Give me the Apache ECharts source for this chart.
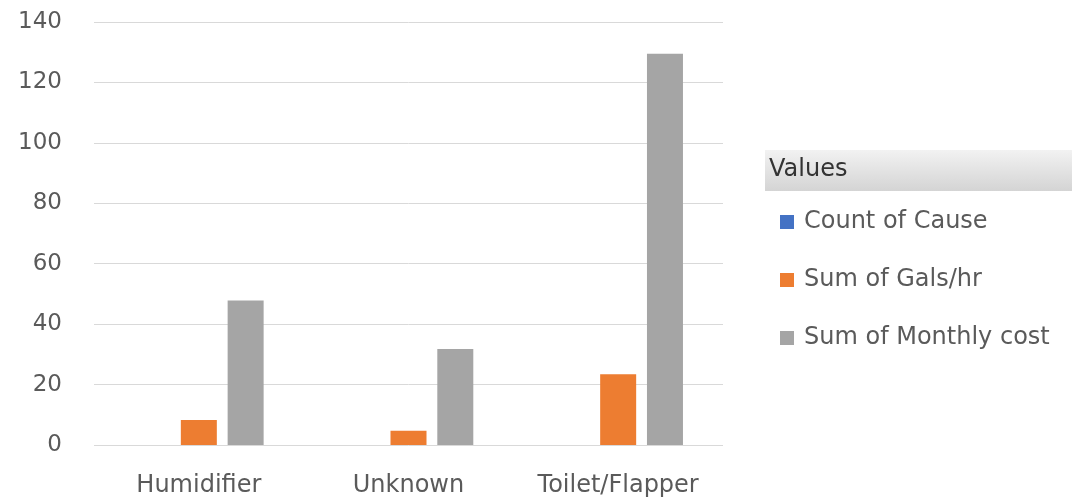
<!DOCTYPE html>
<html>
<head>
<meta charset="utf-8">
<script src="https://cdn.jsdelivr.net/npm/echarts@6/dist/echarts.min.js"></script>
<style>
  html, body { margin: 0; padding: 0; background: #fff; }
  #chart { width: 1084px; height: 502px; }
</style>
</head>
<body>
<div id="chart"></div>
<script>
// Leak causes and their totals
const categories = ['Humidifier', 'Unknown', 'Toilet/Flapper'];
const countOfCause = [0, 0, 0];
const sumGalsHr = [8.3, 4.7, 23.4];
const sumMonthlyCost = [47.8, 31.8, 129.5];
const seriesNames = ['Count of Cause', 'Sum of Gals/hr', 'Sum of Monthly cost'];
const seriesColors = ['#4472C4', '#ED7D31', '#A5A5A5'];

const textColor = '#5a5a5a';
const fontFamily = '"DejaVu Sans", sans-serif';

const chart = echarts.init(document.getElementById('chart'), null, { renderer: 'canvas' });

const values = [countOfCause, sumGalsHr, sumMonthlyCost];

chart.setOption({
  animation: false,
  backgroundColor: '#ffffff',
  grid: { left: 94, right: 361, top: 22, bottom: 57 },
  xAxis: {
    type: 'category',
    data: categories,
    axisLine: { show: false },
    axisTick: { show: false },
    axisLabel: { color: textColor, fontSize: 24, fontFamily, margin: 29 }
  },
  yAxis: {
    type: 'value',
    min: 0,
    max: 140,
    interval: 20,
    axisLine: { show: false },
    axisTick: { show: false },
    splitLine: { lineStyle: { color: '#d9d9d9', width: 1 } },
    axisLabel: { color: textColor, fontSize: 23, fontFamily, margin: 32 }
  },
  legend: {
    orient: 'vertical',
    left: 775,
    top: 205,
    icon: 'rect',
    itemWidth: 14,
    itemHeight: 14,
    itemGap: 34,
    selectedMode: false,
    textStyle: { color: textColor, fontSize: 24, fontFamily, lineHeight: 24, padding: [0, 0, 0, 5] },
    data: seriesNames
  },
  graphic: [
    {
      type: 'rect',
      shape: { x: 765, y: 150, width: 307, height: 41 },
      style: {
        fill: new echarts.graphic.LinearGradient(0, 0, 0, 1, [
          { offset: 0, color: '#f2f2f2' },
          { offset: 1, color: '#d4d4d4' }
        ])
      },
      silent: true
    },
    {
      type: 'text',
      left: 769,
      top: 158,
      style: { text: 'Values', fill: '#333333', fontSize: 24, fontFamily }
    }
  ],
  series: seriesNames.map((name, i) => ({
    name,
    type: 'bar',
    data: values[i],
    barWidth: 36,
    barGap: '30%',
    itemStyle: { color: seriesColors[i] }
  }))
});
</script>
</body>
</html>
